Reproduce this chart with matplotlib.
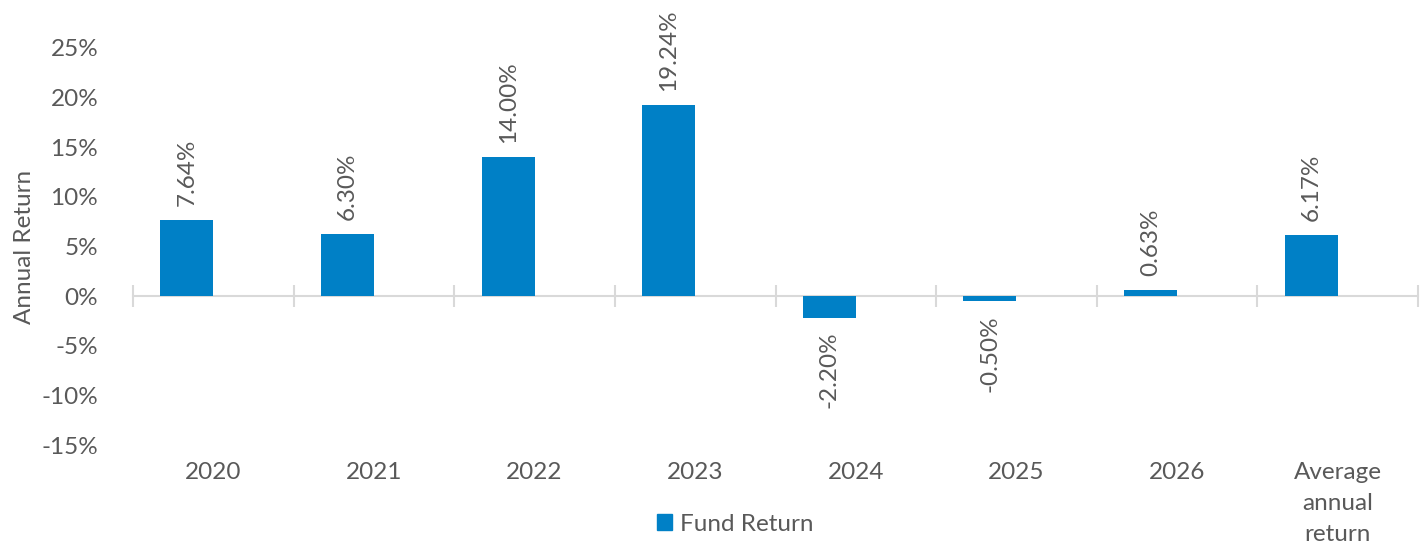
import matplotlib
matplotlib.use("Agg")
import matplotlib.pyplot as plt
import matplotlib.transforms as mtransforms
from matplotlib.patches import Patch
import numpy as np

# ── data ──
categories = ["2020", "2021", "2022", "2023", "2024", "2025", "2026", "Average\nannual\nreturn"]
fund_return = [7.64, 6.30, 14.00, 19.24, -2.20, -0.50, 0.63, 6.17]
y_ticks = [-15, -10, -5, 0, 5, 10, 15, 20, 25]

BAR_COLOR = "#0080C6"
TEXT_COLOR = "#595959"
AXIS_COLOR = "#D9D9D9"
FS = 17.5

plt.rcParams["font.family"] = ["Lato", "DejaVu Sans"]

fig = plt.figure(figsize=(14.27, 5.49), dpi=100)
ax = fig.add_axes([0.0932, 0.1894, 0.9005, 0.7232])

x = np.arange(len(categories))
bar_w = 0.33
bars = ax.bar(x - bar_w / 2, fund_return, width=bar_w, color=BAR_COLOR, zorder=3)

for bar, val in zip(bars, fund_return):
    cx = bar.get_x() + bar.get_width() / 2
    if val >= 0:
        ax.annotate(f"{val:.2f}%", (cx, val), xytext=(0, 10), textcoords="offset points",
                    rotation=90, ha="center", va="bottom", fontsize=FS, color=TEXT_COLOR)
    else:
        ax.annotate(f"{val:.2f}%", (cx, val), xytext=(0, -10), textcoords="offset points",
                    rotation=90, ha="center", va="top", fontsize=FS, color=TEXT_COLOR)

ax.set_xlim(-0.5, len(categories) - 0.5)
ax.set_ylim(-15, 25)
ax.set_yticks(y_ticks)
ax.set_yticklabels([f"{t}%" for t in y_ticks])
ax.tick_params(axis="y", length=0, labelsize=FS, labelcolor=TEXT_COLOR, pad=25)

# zero axis with category boundary ticks
for s in ["top", "right", "left"]:
    ax.spines[s].set_visible(False)
ax.spines["bottom"].set_position(("data", 0))
ax.spines["bottom"].set_color(AXIS_COLOR)
ax.spines["bottom"].set_linewidth(1.5)
ax.spines["bottom"].set_zorder(2)
ax.set_xticks([])
ax.set_xticks(np.arange(-0.5, len(categories)), minor=True)
ax.tick_params(axis="x", which="minor", direction="inout", length=16, width=1.5,
               color=AXIS_COLOR, labelbottom=False)

trans = mtransforms.blended_transform_factory(ax.transData, ax.transAxes)
for xi, cat in zip(x, categories):
    ax.text(xi, -0.043, cat, transform=trans, ha="center", va="top",
            fontsize=FS, color=TEXT_COLOR, linespacing=1.58)

ax.set_ylabel("Annual Return", fontsize=FS, color=TEXT_COLOR, labelpad=5)

fig.legend(handles=[Patch(color=BAR_COLOR, label="Fund Return")], loc="center",
           bbox_to_anchor=(0.515, 0.045), frameon=False, fontsize=FS, labelcolor=TEXT_COLOR,
           handlelength=0.65, handleheight=0.65, handletextpad=0.3)

fig.savefig("out.png", dpi=100)
